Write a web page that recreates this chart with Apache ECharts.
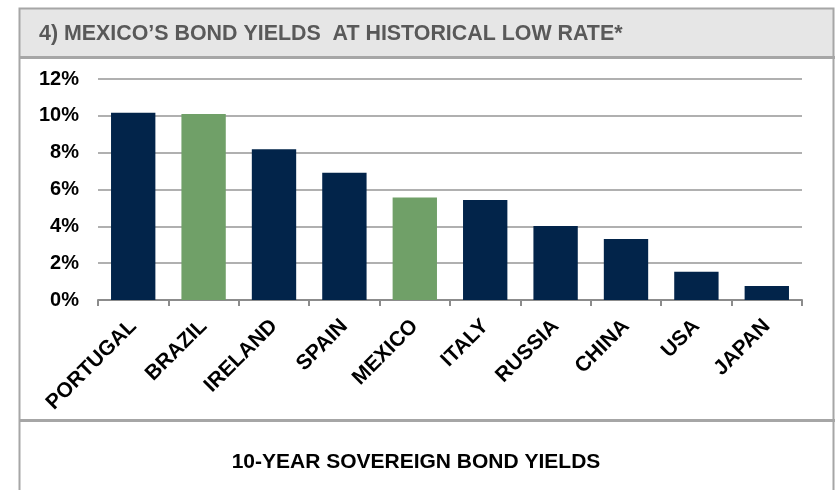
<!DOCTYPE html>
<html>
<head>
<meta charset="utf-8">
<script src="https://cdn.jsdelivr.net/npm/echarts@6/dist/echarts.min.js"></script>
<style>
  html, body { margin: 0; padding: 0; background: #ffffff; }
  #chart { width: 835px; height: 490px; }
</style>
</head>
<body>
<div id="chart"></div>
<script>
// ---- Data ----
var categories = ['PORTUGAL', 'BRAZIL', 'IRELAND', 'SPAIN', 'MEXICO', 'ITALY', 'RUSSIA', 'CHINA', 'USA', 'JAPAN'];
var yields = [10.17, 10.1, 8.18, 6.91, 5.56, 5.43, 4.02, 3.31, 1.54, 0.76];
var highlighted = ['BRAZIL', 'MEXICO'];
var yTicks = { min: 0, max: 12, interval: 2 };
var titleText = '4) MEXICO\u2019S BOND YIELDS  AT HISTORICAL LOW RATE*';
var captionText = '10-YEAR SOVEREIGN BOND YIELDS';

var NAVY = '#02244a';
var GREEN = '#70a068';
var FONT = "'Liberation Sans', Arial, sans-serif";
var BORDER = '#a6a6a6';

var chart = echarts.init(document.getElementById('chart'));

var seriesData = categories.map(function (c, i) {
  return {
    value: yields[i],
    itemStyle: { color: highlighted.indexOf(c) >= 0 ? GREEN : NAVY }
  };
});

chart.setOption({
  animation: false,
  backgroundColor: '#ffffff',
  grid: { left: 98, right: 33, top: 79, bottom: 190, containLabel: false },
  xAxis: {
    type: 'category',
    data: categories,
    boundaryGap: true,
    axisLine: { show: true, lineStyle: { color: '#8c8c8c', width: 2 } },
    axisTick: { show: true, length: 6, lineStyle: { color: '#8c8c8c', width: 2 } },
    axisLabel: {
      interval: 0,
      rotate: 45,
      margin: 23,
      color: '#000000',
      fontFamily: FONT,
      fontWeight: 'bold',
      fontSize: 21
    },
    splitLine: { show: false }
  },
  yAxis: {
    type: 'value',
    min: yTicks.min,
    max: yTicks.max,
    interval: yTicks.interval,
    axisLine: { show: false },
    axisTick: { show: false },
    axisLabel: {
      formatter: '{value}%',
      margin: 19,
      color: '#000000',
      fontFamily: FONT,
      fontWeight: 'bold',
      fontSize: 20
    },
    splitLine: { show: true, lineStyle: { color: '#b0b0b0', width: 2 } }
  },
  series: [{
    type: 'bar',
    data: seriesData,
    barWidth: '63%',
    z: 3
  }],
  graphic: [
    { type: 'rect', z: -10, silent: true,
      shape: { x: 19, y: 9, width: 815, height: 48 },
      style: { fill: '#e6e6e6' } },
    { type: 'rect', z: 100, silent: true,
      shape: { x: 19.5, y: 8.5, width: 814, height: 520 },
      style: { fill: 'none', stroke: BORDER, lineWidth: 2 } },
    { type: 'line', z: 100, silent: true,
      shape: { x1: 19, y1: 57.5, x2: 835, y2: 57.5 },
      style: { stroke: BORDER, lineWidth: 3 } },
    { type: 'line', z: 100, silent: true,
      shape: { x1: 19, y1: 420.5, x2: 835, y2: 420.5 },
      style: { stroke: BORDER, lineWidth: 3 } },
    { type: 'text', z: 100, silent: true,
      x: 39, y: 34,
      style: { text: titleText, fill: '#595959', font: 'bold 21.4px ' + FONT,
               textAlign: 'left', textVerticalAlign: 'middle' } },
    { type: 'text', z: 100, silent: true,
      x: 416, y: 462,
      style: { text: captionText, fill: '#000000', font: 'bold 21px ' + FONT,
               textAlign: 'center', textVerticalAlign: 'middle' } }
  ]
});
</script>
</body>
</html>
